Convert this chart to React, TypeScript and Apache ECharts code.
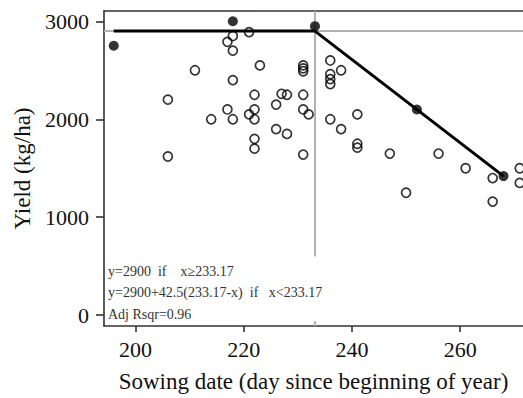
import React, { useEffect, useRef } from "react";
import * as echarts from "echarts";

// ---- data ----
const openPoints: [number, number][] = [
  [206, 2200], [206, 1620], [211, 2500], [214, 2000], [217, 2790], [217, 2100],
  [218, 2850], [218, 2700], [218, 2400], [218, 2000], [221, 2890], [221, 2050],
  [222, 2250], [222, 2100], [222, 2000], [222, 1800], [222, 1700], [223, 2550],
  [226, 2150], [226, 1900], [227, 2260], [228, 2250], [228, 1850], [231, 2550],
  [231, 2520], [231, 2490], [231, 2250], [231, 2100], [232, 2050], [231, 1640],
  [236, 2600], [236, 2460], [236, 2410], [236, 2360], [236, 2000], [238, 2500],
  [238, 1900], [241, 2050], [241, 1750], [241, 1710], [247, 1650], [250, 1250],
  [256, 1650], [261, 1500], [266, 1400], [266, 1160], [271, 1500], [271, 1350],
];
const filledPoints: [number, number][] = [
  [196, 2750], [218, 3000], [233.17, 2950], [252, 2100], [268, 1420],
];
const fittedLine: [number, number][] = [
  [196, 2900], [233.17, 2900], [268, 1420],
];
const breakPoint = 233.17;
const plateau = 2900;
const breakLineBottom = 600;
const breakTickTop = -60;
const xTicks = [200, 220, 240, 260];
const yTicks = [0, 1000, 2000, 3000];
const xMin = 194.2;
const xMax = 271.6;
const yMin = -110;
const yMax = 3105;
const annotations = [
  "y=2900  if    x≥233.17",
  "y=2900+42.5(233.17-x)  if   x<233.17",
  "Adj Rsqr=0.96",
];

const FONT = "Liberation Serif";

export default function App() {
  const ref = useRef<HTMLDivElement>(null);
  useEffect(() => {
    if (!ref.current) return;
    const chart = echarts.init(ref.current, null, { renderer: "svg" });
    const axisLine = { show: true, onZero: false, lineStyle: { color: "#333", width: 1.6 } };
    const plain = (v: number) => String(v);
    const gray = { color: "#b0b0b0", width: 2 };
    chart.setOption({
      animation: false,
      backgroundColor: "#fff",
      textStyle: { fontFamily: FONT },
      grid: { left: 104, top: 11, right: 0, bottom: 66, containLabel: false },
      xAxis: [
        {
          type: "value",
          min: xMin,
          max: xMax,
          name: "Sowing date (day since beginning of year)",
          nameLocation: "middle",
          nameGap: 44,
          nameTextStyle: { fontFamily: FONT, fontSize: 23, color: "#111" },
          axisLine,
          axisTick: { show: true, length: 6, customValues: xTicks, lineStyle: { color: "#333", width: 1.6 } },
          axisLabel: { customValues: xTicks, formatter: plain, fontFamily: FONT, fontSize: 22, color: "#111", margin: 12 },
          splitLine: { show: false },
        },
        {
          type: "value",
          position: "top",
          min: xMin,
          max: xMax,
          axisLine,
          axisTick: { show: false },
          axisLabel: { show: false },
          splitLine: { show: false },
        },
      ],
      yAxis: {
        type: "value",
        min: yMin,
        max: yMax,
        name: "Yield (kg/ha)",
        nameLocation: "middle",
        nameGap: 70,
        nameTextStyle: { fontFamily: FONT, fontSize: 23, color: "#111" },
        axisLine,
        axisTick: { show: true, length: 8, customValues: yTicks, lineStyle: { color: "#333", width: 1.6 } },
        axisLabel: { customValues: yTicks, formatter: plain, fontFamily: FONT, fontSize: 22, color: "#111", margin: 15 },
        splitLine: { show: false },
      },
      series: [
        {
          type: "line",
          data: [[xMin, plateau], [xMax, plateau]],
          symbol: "none",
          lineStyle: gray,
          z: 1,
          silent: true,
        },
        {
          type: "line",
          data: [[breakPoint, yMax], [breakPoint, breakLineBottom]],
          symbol: "none",
          lineStyle: gray,
          z: 1,
          silent: true,
        },
        {
          type: "line",
          data: [[breakPoint, yMin], [breakPoint, breakTickTop]],
          symbol: "none",
          lineStyle: gray,
          z: 1,
          silent: true,
        },
        {
          type: "line",
          data: fittedLine,
          symbol: "none",
          lineStyle: { color: "#000", width: 3 },
          z: 2,
        },
        {
          type: "scatter",
          data: openPoints,
          symbol: "circle",
          symbolSize: 9,
          itemStyle: { color: "rgba(0,0,0,0)", borderColor: "#000", borderWidth: 1.7 },
          z: 3,
        },
        {
          type: "scatter",
          data: filledPoints,
          symbol: "circle",
          symbolSize: 10,
          itemStyle: { color: "#000" },
          z: 4,
        },
      ],
      graphic: annotations.map((t, i) => ({
        type: "text",
        left: 108,
        top: 264 + i * 21.5,
        style: { text: t, font: `14px ${FONT}`, fill: "#333" },
        z: 10,
      })),
    });
    return () => chart.dispose();
  }, []);
  return (
    <div
      ref={ref}
      style={{ position: "absolute", left: 0, top: 0, width: 523, height: 398 }}
    />
  );
}
